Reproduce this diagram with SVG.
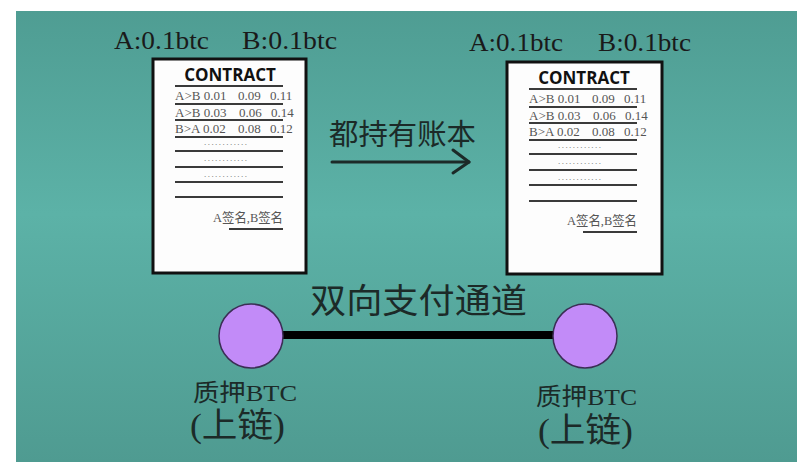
<svg xmlns="http://www.w3.org/2000/svg" width="806" height="467" viewBox="0 0 806 467">
  <defs>
    <linearGradient id="bg" x1="0" y1="0" x2="0" y2="1">
      <stop offset="0" stop-color="#4f9d93"/>
      <stop offset="0.45" stop-color="#5cb2a7"/>
      <stop offset="1" stop-color="#4f9b91"/>
    </linearGradient>
  </defs>
  <style>
    .doc { fill: #fdfdfd; stroke: #111; stroke-width: 3; }
    .title { font-family: "Open Sans", "Liberation Sans", sans-serif; font-weight: bold; font-size: 17px; fill: #111; text-anchor: middle; }
    .row { font-family: "Liberation Serif", "Noto Sans CJK SC", serif; font-size: 13px; fill: #555; }
    .dots { font-family: "Liberation Serif", serif; font-size: 9px; fill: #666; }
    .rule { stroke: #3a3a3a; stroke-width: 2; }
    .bal { font-family: "Liberation Serif", serif; font-size: 26px; fill: #1a1a1a; }
    .cjk { font-family: "Noto Sans CJK SC", sans-serif; fill: #1c2a28; }
    .lbl { font-family: "Liberation Serif", "Noto Sans CJK SC", serif; fill: #1c2a28; }
    .node { fill: #c28bf8; stroke: #3b2e55; stroke-width: 1.5; }
    .arrow { fill: none; stroke: #1c2a28; stroke-width: 3; stroke-linecap: round; stroke-linejoin: round; }
  </style>
  <rect x="0" y="0" width="806" height="467" fill="#ffffff"/>
  <rect x="16" y="11" width="781" height="451" fill="url(#bg)"/>

  <g id="balances-left">
    <text class="bal" x="114" y="49" textLength="95" lengthAdjust="spacingAndGlyphs">A:0.1btc</text>
    <text class="bal" x="242" y="49" textLength="95" lengthAdjust="spacingAndGlyphs">B:0.1btc</text>
  </g>
  <g id="balances-right">
    <text class="bal" x="469" y="51" textLength="94" lengthAdjust="spacingAndGlyphs">A:0.1btc</text>
    <text class="bal" x="598" y="51" textLength="93" lengthAdjust="spacingAndGlyphs">B:0.1btc</text>
  </g>

  <g id="contract-left">
    <rect class="doc" x="153" y="59" width="153" height="214"/>
    <text class="title" x="230" y="81">CONTRACT</text>
    <line class="rule" x1="175" y1="86" x2="283" y2="86"/>
    <text class="row" x="175" y="100">A&gt;B 0.01</text><text class="row" x="238" y="100">0.09</text><text class="row" x="270" y="100">0.11</text>
    <line class="rule" x1="175" y1="104" x2="283" y2="104"/>
    <text class="row" x="175" y="117">A&gt;B 0.03</text><text class="row" x="239" y="117">0.06</text><text class="row" x="271" y="117">0.14</text>
    <line class="rule" x1="175" y1="120" x2="283" y2="120"/>
    <text class="row" x="175" y="133">B&gt;A 0.02</text><text class="row" x="238" y="133">0.08</text><text class="row" x="270" y="133">0.12</text>
    <line class="rule" x1="175" y1="137" x2="283" y2="137"/>
    <text class="dots" x="204" y="145" textLength="43">............</text>
    <line class="rule" x1="175" y1="151" x2="283" y2="151"/>
    <text class="dots" x="204" y="161" textLength="43">............</text>
    <line class="rule" x1="175" y1="167" x2="283" y2="167"/>
    <text class="dots" x="204" y="177" textLength="43">............</text>
    <line class="rule" x1="175" y1="182" x2="283" y2="182"/>
    <line class="rule" x1="175" y1="197" x2="283" y2="197"/>
    <text class="row" x="213" y="222" textLength="70" lengthAdjust="spacingAndGlyphs">A签名,B签名</text>
    <line class="rule" x1="229" y1="229" x2="283" y2="229"/>
  </g>

  <g id="contract-right" transform="translate(354,3)">
    <rect class="doc" x="153" y="59" width="155" height="212"/>
    <text class="title" x="230" y="81">CONTRACT</text>
    <line class="rule" x1="175" y1="86" x2="283" y2="86"/>
    <text class="row" x="175" y="100">A&gt;B 0.01</text><text class="row" x="238" y="100">0.09</text><text class="row" x="270" y="100">0.11</text>
    <line class="rule" x1="175" y1="104" x2="283" y2="104"/>
    <text class="row" x="175" y="117">A&gt;B 0.03</text><text class="row" x="239" y="117">0.06</text><text class="row" x="271" y="117">0.14</text>
    <line class="rule" x1="175" y1="120" x2="283" y2="120"/>
    <text class="row" x="175" y="133">B&gt;A 0.02</text><text class="row" x="238" y="133">0.08</text><text class="row" x="270" y="133">0.12</text>
    <line class="rule" x1="175" y1="137" x2="283" y2="137"/>
    <text class="dots" x="204" y="145" textLength="43">............</text>
    <line class="rule" x1="175" y1="151" x2="283" y2="151"/>
    <text class="dots" x="204" y="161" textLength="43">............</text>
    <line class="rule" x1="175" y1="167" x2="283" y2="167"/>
    <text class="dots" x="204" y="177" textLength="43">............</text>
    <line class="rule" x1="175" y1="182" x2="283" y2="182"/>
    <line class="rule" x1="175" y1="198" x2="283" y2="198"/>
    <text class="row" x="213" y="222" textLength="70" lengthAdjust="spacingAndGlyphs">A签名,B签名</text>
    <line class="rule" x1="229" y1="229" x2="283" y2="229"/>
  </g>

  <g id="connectors">
    <line x1="283" y1="335" x2="553" y2="335" stroke="#000" stroke-width="8"/>
    <line class="arrow" x1="332" y1="162" x2="469" y2="162"/>
    <polyline class="arrow" points="453,150 469,162 453,173"/>
  </g>

  <g id="copy-label">
    <text class="cjk" x="329" y="145" font-size="29" textLength="147" lengthAdjust="spacingAndGlyphs">都持有账本</text>
  </g>
  <g id="channel-label">
    <text class="cjk" x="310" y="313" font-size="34" textLength="217" lengthAdjust="spacingAndGlyphs">双向支付通道</text>
  </g>

  <g id="node-left">
    <circle class="node" cx="251" cy="336" r="32"/>
    <text class="lbl" x="193" y="401" font-size="24" textLength="104" lengthAdjust="spacingAndGlyphs">质押BTC</text>
    <text class="lbl" x="190" y="437" font-size="34" textLength="95" lengthAdjust="spacingAndGlyphs">(上链)</text>
  </g>
  <g id="node-right">
    <circle class="node" cx="585" cy="336" r="32"/>
    <text class="lbl" x="536" y="405" font-size="24" textLength="101" lengthAdjust="spacingAndGlyphs">质押BTC</text>
    <text class="lbl" x="538" y="442" font-size="34" textLength="95" lengthAdjust="spacingAndGlyphs">(上链)</text>
  </g>
</svg>
